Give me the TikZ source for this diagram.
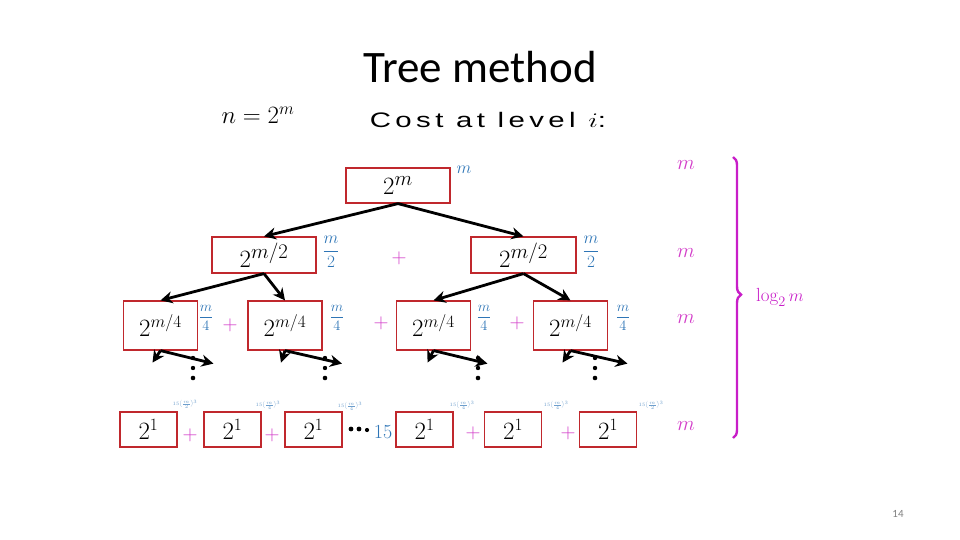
\documentclass[tikz,border=0pt]{standalone}
\usepackage{fontspec}
\usepackage{amsmath}
\usepackage{tikz}
\usetikzlibrary{arrows.meta, positioning, calc, decorations.pathreplacing}
\newfontfamily\titlefont{Carlito}
\newfontfamily\costfont[LetterSpace=15]{Liberation Sans}
\definecolor{boxred}{HTML}{C0282D}
\definecolor{costblue}{HTML}{2E75B6}
\definecolor{sumpink}{HTML}{D23CC8}
\definecolor{bracepink}{HTML}{C81EC8}

\tikzset{
  callbox/.style={draw=boxred, line width=1.2pt, inner sep=0pt},
  callarrow/.style={-{Stealth[length=12pt, width=12pt]}, line width=2.8pt, black},
  costlabel/.style={text=costblue, inner sep=0pt},
  pluslabel/.style={text=sumpink, inner sep=0pt, font=\fontsize{22}{22}\selectfont},
  levelcost/.style={text=sumpink, inner sep=0pt, font=\fontsize{22}{22}\selectfont},
  tinycost/.style={text=costblue!70, inner sep=0pt, font=\fontsize{4}{4}\selectfont}
}

\begin{document}
\begin{tikzpicture}[x=1pt, y=-1pt]
\useasboundingbox (0,0) rectangle (960,540);
% title and heading
\node[font=\titlefont\fontsize{45}{45}\selectfont] (title) at (480,67) {Tree method};
\node[font=\fontsize{26}{26}\selectfont] (nsize) at (258,115) {$n=2^{m}$};
\node[font=\costfont\fontsize{21}{21}\selectfont, xscale=1.4] (costhead) at (488,120) {Cost at level $i$:};

% level 0
\node[callbox, minimum width=104pt, minimum height=35pt, font=\fontsize{28}{28}\selectfont]
  (root) at (398,185.5) {$2^{m}$};
\node[costlabel, font=\fontsize{17}{17}\selectfont] (c0) at (464,170) {$m$};

% level 1
\node[callbox, minimum width=104pt, minimum height=36pt, font=\fontsize{28}{28}\selectfont]
  (la) at (264,255) {$2^{m/2}$};
\node[callbox, minimum width=105pt, minimum height=36pt, font=\fontsize{28}{28}\selectfont]
  (lb) at (523.5,255) {$2^{m/2}$};
\node[costlabel, font=\fontsize{16}{16}\selectfont] (ca) at (331,252) {$\dfrac{m}{2}$};
\node[costlabel, font=\fontsize{16}{16}\selectfont] (cb) at (591,252) {$\dfrac{m}{2}$};
\node[pluslabel] (p1) at (399,258) {$+$};

% level 2
\foreach \nm/\x in {laa/160.5, lab/285, lba/433.5, lbb/570.5}{
  \node[callbox, minimum width=74pt, minimum height=49pt, font=\fontsize{27}{27}\selectfont]
    (\nm) at (\x,325.5) {$2^{m/4}$\hspace{4pt}};
}
\foreach \nm/\x in {caa/206, cab/337, cba/484, cbb/623}{
  \node[costlabel, font=\fontsize{15}{15}\selectfont] (\nm) at (\x,318) {$\dfrac{m}{4}$};
}
\node[pluslabel] (p2) at (230,325) {$+$};
\node[pluslabel] (p3) at (381,323) {$+$};
\node[pluslabel] (p4) at (517,323) {$+$};

% level 3 (leaves)
\foreach \nm/\x in {fa/148.5, fb/232.5, fc/313.5, fd/424.5, fe/513, ff/608}{
  \node[callbox, minimum width=57pt, minimum height=35pt, font=\fontsize{25}{25}\selectfont]
    (\nm) at (\x,429.5) {$2^{1}$};
}
\node[pluslabel] (p5) at (190,435) {$+$};
\node[pluslabel] (p6) at (272,435) {$+$};
\node[pluslabel] (p7) at (473,433) {$+$};
\node[pluslabel] (p8) at (568,433) {$+$};
% horizontal dots
\fill (351,429) circle (2.4) (359,429) circle (2.4) (367,430) circle (2.1);
\node[costlabel, font=\fontsize{20}{20}\selectfont] (fifteen) at (383,432) {15};
\node[tinycost] (ta) at (185,404) {$15\bigl(\frac{m}{2}\bigr)^{3}$};
\node[tinycost] (tb) at (268,405) {$15\bigl(\frac{m}{4}\bigr)^{3}$};
\node[tinycost] (tc) at (350,406) {$15\bigl(\frac{m}{4}\bigr)^{3}$};
\node[tinycost] (td) at (462,405) {$15\bigl(\frac{m}{4}\bigr)^{3}$};
\node[tinycost] (te) at (556,405) {$15\bigl(\frac{m}{4}\bigr)^{3}$};
\node[tinycost] (tf) at (651,405) {$15\bigl(\frac{m}{2}\bigr)^{3}$};

% connectors
\draw[callarrow] (root.south) -- (la.north);
\draw[callarrow] (root.south) -- (lb.north);
\draw[callarrow] (la.south) -- (laa.north);
\draw[callarrow] (la.south) -- (lab.north);
\draw[callarrow] (lb.south) -- (lba.north);
\draw[callarrow] (lb.south) -- (lbb.north);

% open branches below level 2, with vertical dots
\foreach \nm/\dl/\dr/\dx in {laa/-8/53/193, lab/-4/57/325, lba/-6/54/478, lbb/-8/57/595}{
  \coordinate (\nm L) at ($(\nm.south)+(\dl,12)$);
  \coordinate (\nm R) at ($(\nm.south)+(\dr,13)$);
  \draw[callarrow] (\nm.south) -- (\nm L);
  \draw[callarrow] (\nm.south) -- (\nm R);
  \fill (\dx,358) circle (2.2) (\dx,368) circle (2.2) (\dx,378) circle (2.3);
}

% per-level costs and brace
\node[levelcost] (s0) at (686,165) {$m$};
\node[levelcost] (s1) at (686,253) {$m$};
\node[levelcost] (s2) at (686,319) {$m$};
\node[levelcost] (s3) at (686,426) {$m$};
\coordinate (btop) at (733,157);
\coordinate (bbot) at (733,438);
\draw[bracepink, line width=2.4pt, decorate, decoration={brace, amplitude=8pt, aspect=0.49}]
  (btop) -- (bbot) node[midway, right=22pt, text=bracepink, font=\fontsize{19}{19}\selectfont, inner sep=0pt] (depth) {$\log_{2}m$};

% slide number
\node[text=gray, font=\titlefont\fontsize{11}{11}\selectfont] (pnum) at (898,514) {14};
\end{tikzpicture}
\end{document}
